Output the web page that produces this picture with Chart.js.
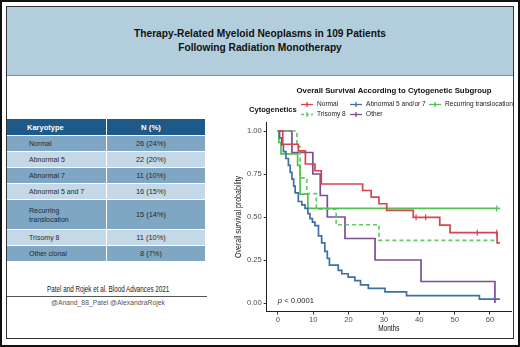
<!DOCTYPE html>
<html>
<head>
<meta charset="utf-8">
<script src="https://cdn.jsdelivr.net/npm/chart.js@4.4.1/dist/chart.umd.min.js"></script>
<style>
  html, body { margin: 0; padding: 0; background: #fff; }
  body { width: 520px; height: 347px; position: relative; overflow: hidden;
         font-family: "Liberation Sans", Arial, sans-serif; color: #222; }
  #outer { position: absolute; left: 0; top: 0; width: 516px; height: 343px; border: 2px solid #111; }
  #inner { position: absolute; left: 6px; top: 6px; width: 506px; height: 331px; border: 1px solid #333; }
  #banner { position: absolute; left: 7px; top: 7px; width: 506px; height: 68px; background: #b2cddb;
            border-bottom: 1px solid #7d929c; text-align: center; font-weight: bold; font-size: 10.2px;
            line-height: 14px; color: #111; }
  #banner div:first-child { margin-top: 20px; }
  #table { position: absolute; left: 7px; top: 119px; width: 198px; font-size: 7px; }
  .row { display: flex; background: #7fa6c3; margin-top: 1px; height: 15px; align-items: center; color: #1d2a35; }
  .row.head { background: #1d5a8a; color: #fff; font-weight: bold; font-size: 7.5px; height: 16px; margin-top: 0; }
  .row.light { background: #c4d8e6; }
  .row .k { width: 77px; padding-left: 22px; white-space: pre-line; line-height: 9px; }
  .row.head .k { padding-left: 20px; width: 79px; }
  .row .n { flex: 1; text-align: center; border-left: 1px solid #fff; height: 100%; display: flex;
            align-items: center; justify-content: center; padding-right: 10px; font-size: 7.4px; }
  .row.head .n { font-size: 7.8px; }
  #cite { position: absolute; left: 7px; top: 283px; width: 202px; text-align: center; font-size: 9.4px; color: #222; }
  #cite span { display: inline-block; transform: scaleX(0.67); white-space: nowrap; }
  #rule { position: absolute; left: 7px; top: 296px; width: 200px; height: 1.4px; background: #555; }
  #handles { position: absolute; left: 7px; top: 299px; width: 202px; text-align: center; font-size: 6.8px; color: #555; }
  #chart { position: absolute; left: 0; top: 0; }
</style>
</head>
<body>
<div id="outer"></div>
<div id="inner"></div>
<div id="banner">
  <div>Therapy-Related Myeloid Neoplasms in 109 Patients</div>
  <div>Following Radiation Monotherapy</div>
</div>
<div id="table"></div>
<div id="cite"><span>Patel and Rojek et al. Blood Advances 2021</span></div>
<div id="rule"></div>
<div id="handles">@Anand_88_Patel @AlexandraRojek</div>
<canvas id="chart" width="520" height="347"></canvas>

<script>
// table values
const karyotypes = ['Normal', 'Abnormal 5', 'Abnormal 7', 'Abnormal 5 and 7', 'Recurring\ntranslocation', 'Trisomy 8', 'Other  clonal'];
const karyotypeN = ['26 (24%)', '22 (20%)', '11 (10%)', '16 (15%)', '15 (14%)', '11 (10%)', '8 (7%)'];

// Kaplan-Meier curves (months, survival probability)
const normalMonths = [0, 1.4, 5.8, 7.8, 10.5, 12.3, 24.0, 26.4, 28.6, 30.8, 38.3, 45.8, 48.7, 62.0, 62.8];
const normalSurv   = [1.0, 0.923, 0.885, 0.808, 0.769, 0.692, 0.654, 0.615, 0.577, 0.538, 0.498, 0.453, 0.409, 0.35, 0.35];

const abn57Months = [0, 0.5, 1.1, 1.6, 2.3, 3.0, 3.5, 4.0, 4.5, 4.9, 5.8, 6.8, 7.7, 8.5, 9.1, 9.8, 10.5, 11.5,
                     12.4, 13.3, 14.0, 14.6, 17.1, 18.1, 19.9, 21.8, 23.4, 25.6, 30.3, 36.4, 57.0, 62.8];
const abn57Surv   = [1.0, 0.96, 0.92, 0.88, 0.84, 0.80, 0.76, 0.72, 0.68, 0.64, 0.59, 0.57, 0.55, 0.52, 0.49, 0.47,
                     0.45, 0.39, 0.35, 0.30, 0.26, 0.22, 0.19, 0.17, 0.15, 0.13, 0.105, 0.085, 0.065, 0.043, 0.022, 0.022];

const transMonths = [0, 0.3, 0.9, 5.6, 6.3, 8.5, 62.8];
const transSurv   = [1.0, 0.933, 0.867, 0.8, 0.633, 0.55, 0.55];

const tri8Months = [0, 5.4, 6.3, 8.2, 10.9, 16.5, 28.6, 62.0];
const tri8Surv   = [1.0, 0.909, 0.727, 0.636, 0.545, 0.455, 0.364, 0.364];

const otherMonths = [0, 4.0, 9.9, 12.0, 14.0, 19.0, 27.5, 40.5, 61.4];
const otherSurv   = [1.0, 0.875, 0.75, 0.625, 0.5, 0.375, 0.25, 0.125, 0];

// censoring marks
const normalCensorMonths = [39.1, 41.8, 56.4, 61.9];
const normalCensorSurv   = [0.498, 0.498, 0.409, 0.409];
const transCensorMonths  = [61.9];
const transCensorSurv    = [0.55];

const xTicks = [0, 10, 20, 30, 40, 50, 60];
const yTicks = [0, 0.25, 0.5, 0.75, 1.0];
const xTitle = 'Months';
const yTitle = 'Overall survival probability';
const pValueText = 'p < 0.0001';

// build the table
const tbl = document.getElementById('table');
tbl.innerHTML = '<div class="row head"><div class="k">Karyotype</div><div class="n">N (%)</div></div>';
karyotypes.forEach((k, i) => {
  const row = document.createElement('div');
  row.className = 'row' + (i % 2 ? ' light' : '');
  if (k.includes('\n')) row.style.height = '29px';
  row.innerHTML = '<div class="k"></div><div class="n"></div>';
  row.children[0].textContent = k;
  row.children[1].textContent = karyotypeN[i];
  tbl.appendChild(row);
});

const pts = (xs, ys) => xs.map((x, i) => ({ x: x, y: ys[i] }));

const curve = (label, xs, ys, color, dash) => ({
  label: label,
  data: pts(xs, ys),
  borderColor: color,
  backgroundColor: color,
  borderWidth: 1.7,
  borderDash: dash || [],
  stepped: true, // horizontal first, then drop
  pointRadius: 0,
  fill: false,
});

const censor = (xs, ys, color) => ({
  label: 'censor',
  data: pts(xs, ys),
  showLine: false,
  pointStyle: 'line',
  rotation: 90,
  pointRadius: 3,
  borderWidth: 1.2,
  borderColor: color,
  backgroundColor: color,
});

const RED = '#d8434f', BLUE = '#3f6fa6', GREEN = '#4fc24f', GREEN2 = '#66c866', PURPLE = '#7d4d92';

const datasets = [
  curve('Normal', normalMonths, normalSurv, RED),
  curve('Abnormal 5 and/or 7', abn57Months, abn57Surv, BLUE),
  curve('Recurring translocation', transMonths, transSurv, GREEN),
  curve('Trisomy 8', tri8Months, tri8Surv, GREEN2, [4, 3]),
  curve('Other', otherMonths, otherSurv, PURPLE),
  censor(normalCensorMonths, normalCensorSurv, RED),
  censor(transCensorMonths, transCensorSurv, GREEN),
];

const sans = '"Liberation Sans", Arial, sans-serif';

// title, legend, condensed axis titles and p value
const decor = {
  id: 'decor',
  afterDraw(chart) {
    const ctx = chart.ctx;
    const ds = chart.data.datasets;
    const area = chart.chartArea;
    ctx.save();
    ctx.fillStyle = '#111';
    ctx.textBaseline = 'middle';

    ctx.font = 'bold 7.8px ' + sans;
    ctx.textAlign = 'center';
    ctx.fillText('Overall Survival According to Cytogenetic Subgroup', 394, 91);

    // axis titles in a narrow face
    ctx.font = '9px ' + sans;
    ctx.save();
    ctx.translate((area.left + area.right) / 2, 329);
    ctx.scale(0.72, 1);
    ctx.fillText(xTitle, 0, 0);
    ctx.restore();
    ctx.save();
    ctx.translate(239, (area.top + area.bottom) / 2);
    ctx.rotate(-Math.PI / 2);
    ctx.scale(0.78, 1);
    ctx.fillText(yTitle, 0, 0);
    ctx.restore();

    ctx.textAlign = 'left';
    ctx.font = 'bold 7.6px ' + sans;
    ctx.fillText('Cytogenetics', 249, 109.5);

    const cols = [301, 350, 429];
    const rows = [104.5, 114.5];
    const slots = [[0, 0], [1, 0], [2, 0], [0, 1], [1, 1]];
    ctx.font = '6.6px ' + sans;
    slots.forEach(([c, r], i) => {
      const d = ds[i];
      const x = cols[c], y = rows[r];
      ctx.strokeStyle = d.borderColor;
      ctx.lineWidth = 1.3;
      ctx.setLineDash(d.borderDash.length ? [3, 2] : []);
      ctx.beginPath();
      ctx.moveTo(x, y); ctx.lineTo(x + 12, y);
      ctx.stroke();
      ctx.setLineDash([]);
      ctx.beginPath();
      ctx.moveTo(x + 6, y - 2.5); ctx.lineTo(x + 6, y + 2.5);
      ctx.stroke();
      ctx.fillStyle = '#222';
      ctx.fillText(d.label, x + 16, y);
    });

    const xs = chart.scales.x, ys = chart.scales.y;
    const px = xs.getPixelForValue(0), py = ys.getPixelForValue(0.01);
    ctx.font = 'italic 7.6px ' + sans;
    ctx.fillText(pValueText.slice(0, 1), px, py);
    const w = ctx.measureText('p').width;
    ctx.font = '7.6px ' + sans;
    ctx.fillText(pValueText.slice(1), px + w, py);
    ctx.restore();
  }
};

new Chart(document.getElementById('chart'), {
  type: 'line',
  data: { datasets: datasets },
  options: {
    responsive: false,
    animation: false,
    events: [],
    layout: { padding: { left: 232.7, top: 122.4, right: 9, bottom: 9.4 } },
    plugins: { legend: { display: false }, title: { display: false }, tooltip: { enabled: false } },
    scales: {
      x: {
        type: 'linear',
        min: -3.14,
        max: 65.94,
        afterBuildTicks: (s) => { s.ticks = xTicks.map((v) => ({ value: v })); },
        afterFit: (s) => { s.height = 26; },
        ticks: { font: { size: 7.6, family: sans }, color: '#4d4d4d', padding: 1, maxRotation: 0 },
        grid: { drawOnChartArea: false, tickLength: 3, tickColor: '#333' },
        border: { display: true, color: '#222', width: 1 },
      },
      y: {
        type: 'linear',
        min: -0.05,
        max: 1.05,
        afterBuildTicks: (s) => { s.ticks = yTicks.map((v) => ({ value: v })); },
        afterFit: (s) => { s.width = 34; },
        ticks: { font: { size: 7.6, family: sans }, color: '#4d4d4d', padding: 2, callback: (v) => v.toFixed(2) },
        grid: { drawOnChartArea: false, tickLength: 3, tickColor: '#333' },
        border: { display: true, color: '#222', width: 1 },
      },
    },
  },
  plugins: [decor],
});
</script>
</body>
</html>
